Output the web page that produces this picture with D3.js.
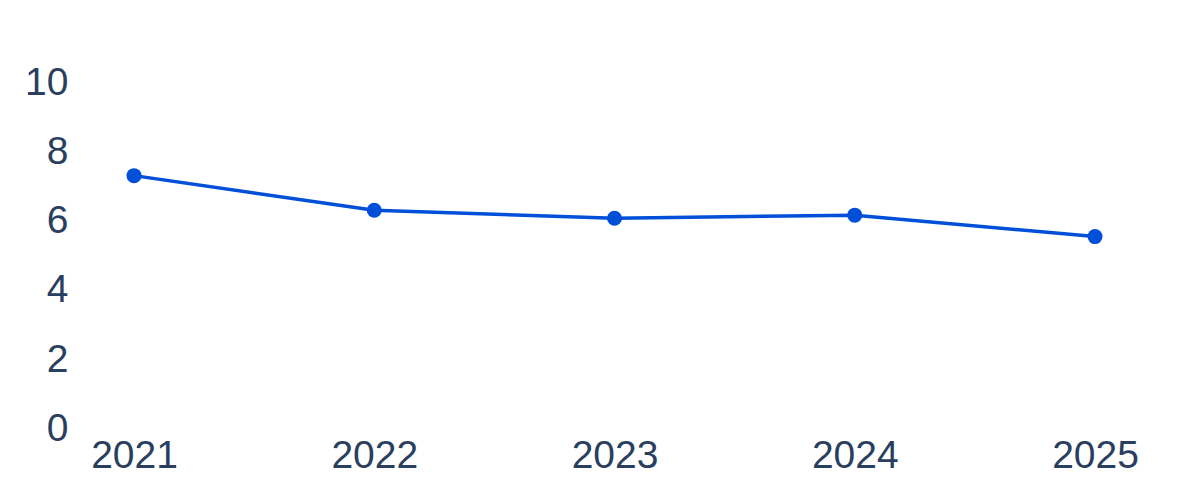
<!DOCTYPE html>
<html><head><meta charset="utf-8">
<script src="https://cdn.jsdelivr.net/npm/d3@7"></script>
<style>body{margin:0;background:#fff}svg{display:block}</style>
</head><body>
<svg id="c" width="1200" height="500"></svg>
<script>
const years = ["2021","2022","2023","2024","2025"];
const values = [7.24, 6.24, 6.01, 6.10, 5.48];
const yTicks = [0,2,4,6,8,10];

const svg = d3.select("#c");
const x = d3.scalePoint().domain(years).range([134, 1095]);
const y = d3.scaleLinear().domain([0,10]).range([426.5, 80]);
const font = "'Liberation Sans', Arial, sans-serif";
const textColor = "#2a3f5f";

const yAxis = svg.append("g").attr("transform","translate(68.5,0)")
  .call(d3.axisLeft(y).tickValues(yTicks).tickSize(0).tickPadding(0));
yAxis.select(".domain").remove();
yAxis.selectAll("text").attr("font-family",font).attr("font-size",39).attr("fill",textColor).attr("dy","0.36em");

const xAxis = svg.append("g").attr("transform","translate(0,468)")
  .call(d3.axisBottom(x).tickSize(0).tickPadding(0));
xAxis.select(".domain").remove();
xAxis.selectAll("text").attr("font-family",font).attr("font-size",39).attr("fill",textColor).attr("y",0).attr("dy","0");

const color = "#004fd9";
const line = d3.line().x((d,i)=>x(years[i])).y(d=>y(d));
svg.append("path").datum(values).attr("d",line).attr("fill","none")
  .attr("stroke",color).attr("stroke-width",3.5).attr("stroke-linejoin","round");
svg.selectAll("circle.pt").data(values).join("circle").attr("class","pt")
  .attr("cx",(d,i)=>x(years[i])).attr("cy",d=>y(d)).attr("r",7.5).attr("fill",color);
</script>
</body></html>
